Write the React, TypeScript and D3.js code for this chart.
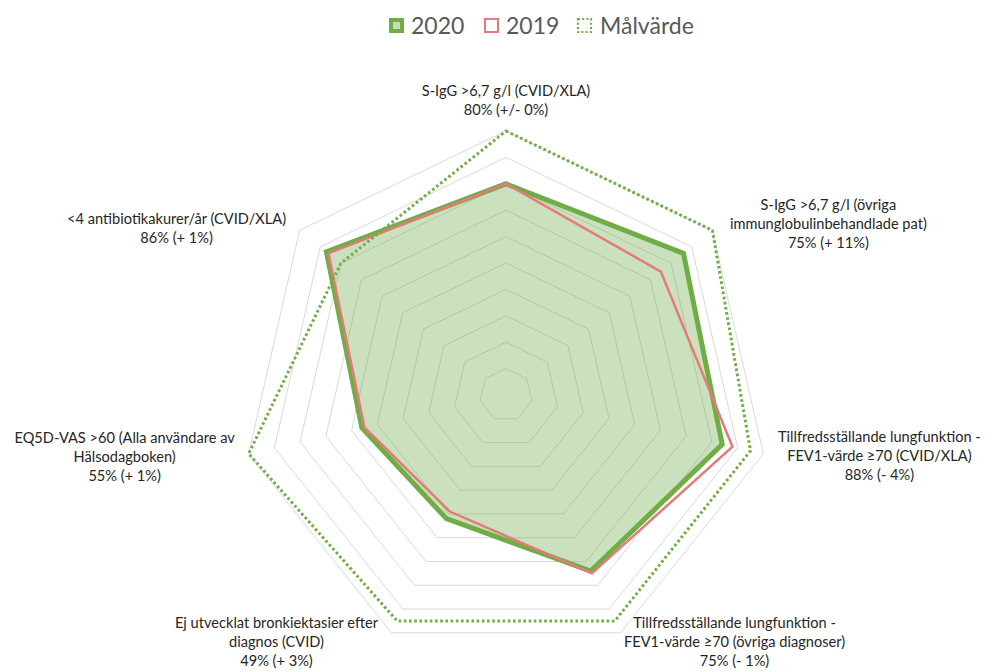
import React from "react";
import * as d3 from "d3";

const categories: string[][] = [
  ["S-IgG >6,7 g/l (CVID/XLA)", "80% (+/- 0%)"],
  ["S-IgG >6,7 g/l (övriga", "immunglobulinbehandlade pat)", "75% (+ 11%)"],
  ["Tillfredsställande lungfunktion -", "FEV1-värde ≥70 (CVID/XLA)", "88% (- 4%)"],
  ["Tillfredsställande lungfunktion -", "FEV1-värde ≥70 (övriga diagnoser)", "75% (- 1%)"],
  ["Ej utvecklat bronkiektasier efter", "diagnos (CVID)", "49% (+ 3%)"],
  ["EQ5D-VAS >60 (Alla användare av", "Hälsodagboken)", "55% (+ 1%)"],
  ["<4 antibiotikakurer/år (CVID/XLA)", "86% (+ 1%)"],
];

const values2020: number[] = [80, 86, 84, 74, 52, 56, 87];
const values2019: number[] = [80, 75, 88, 75, 49, 55, 86];
const valuesTarget: number[] = [100, 100, 95, 95, 95, 100, 80];
const gridTicks: number[] = [10, 20, 30, 40, 50, 60, 70, 80, 90, 100];
const legendLabels: string[] = ["2020", "2019", "Målvärde"];

// layout (not data)
const W = 992;
const H = 672;
const CX = 506;
const CY = 395;
const RMAX = 264;
const labelOffsets: [number, number][] = [
  [0, -35],
  [116, -20],
  [116, -12],
  [114, -5],
  [-115, -5],
  [-124, -11],
  [-123, -6],
];
const LINE_H = 19;

const GREEN = "#70AD47";
const RED = "#E57A7A";
const GRID = "#D9D9D9";
const FONT = "Lato, 'Liberation Sans', sans-serif";

export default function App() {
  const n = categories.length;
  const r = d3.scaleLinear().domain([0, 100]).range([0, RMAX]);
  const angle = (i: number) => (i * 2 * Math.PI) / n;
  const radial = d3
    .lineRadial<number>()
    .angle((_, i) => angle(i))
    .radius((d) => r(d))
    .curve(d3.curveLinearClosed);
  const pt = (i: number, v: number): [number, number] => {
    const a = angle(i);
    return [Math.sin(a) * r(v), -Math.cos(a) * r(v)];
  };

  const legendX = [381, 476, 569];
  return (
    <svg
      width={W}
      height={H}
      style={{ display: "block", position: "fixed", left: 0, top: 0, fontFamily: FONT, background: "#fff" }}
    >
      {/* legend */}
      <g>
        <rect x={legendX[0] + 8} y={18} width={15} height={15} fill={GREEN} />
        <rect x={legendX[0] + 12} y={22} width={7} height={7} fill="#C5DDB4" />
        <text x={legendX[0] + 30} y={34} fontSize={23} fill="#595959">{legendLabels[0]}</text>
        <rect x={legendX[1] + 9} y={19} width={13} height={13} fill="#fff" stroke={RED} strokeWidth={2} />
        <text x={legendX[1] + 30} y={34} fontSize={23} fill="#595959">{legendLabels[1]}</text>
        <rect x={legendX[2] + 9} y={19} width={13} height={13} fill="none" stroke={GREEN} strokeWidth={2.2} strokeDasharray="2 2.2" />
        <text x={legendX[2] + 31} y={34} fontSize={23} fill="#595959">{legendLabels[2]}</text>
      </g>
      <g transform={`translate(${CX},${CY})`}>
        {gridTicks.map((t) => (
          <path
            key={t}
            d={radial(new Array(n).fill(t)) || ""}
            fill="none"
            stroke={GRID}
            strokeWidth={1}
          />
        ))}
        <path
          d={radial(values2020) || ""}
          fill={GREEN}
          fillOpacity={0.36}
          stroke={GREEN}
          strokeWidth={5}
          strokeLinejoin="miter"
        />
        <path
          d={radial(values2019) || ""}
          fill="none"
          stroke={RED}
          strokeWidth={2.5}
          strokeLinejoin="miter"
        />
        <path
          d={radial(valuesTarget) || ""}
          fill="none"
          stroke={GREEN}
          strokeWidth={3}
          strokeDasharray="2.6 2.6"
          strokeLinejoin="miter"
        />
        {categories.map((lines, i) => {
          const [vx, vy] = pt(i, 100);
          const [ox, oy] = labelOffsets[i];
          return (
            <text
              key={i}
              x={vx + ox}
              y={vy + oy}
              textAnchor="middle"
              fontSize={14.6}
              fill="#262626"
            >
              {lines.map((l, j) => (
                <tspan key={j} x={vx + ox} dy={j === 0 ? 0 : LINE_H}>
                  {l}
                </tspan>
              ))}
            </text>
          );
        })}
      </g>
    </svg>
  );
}
